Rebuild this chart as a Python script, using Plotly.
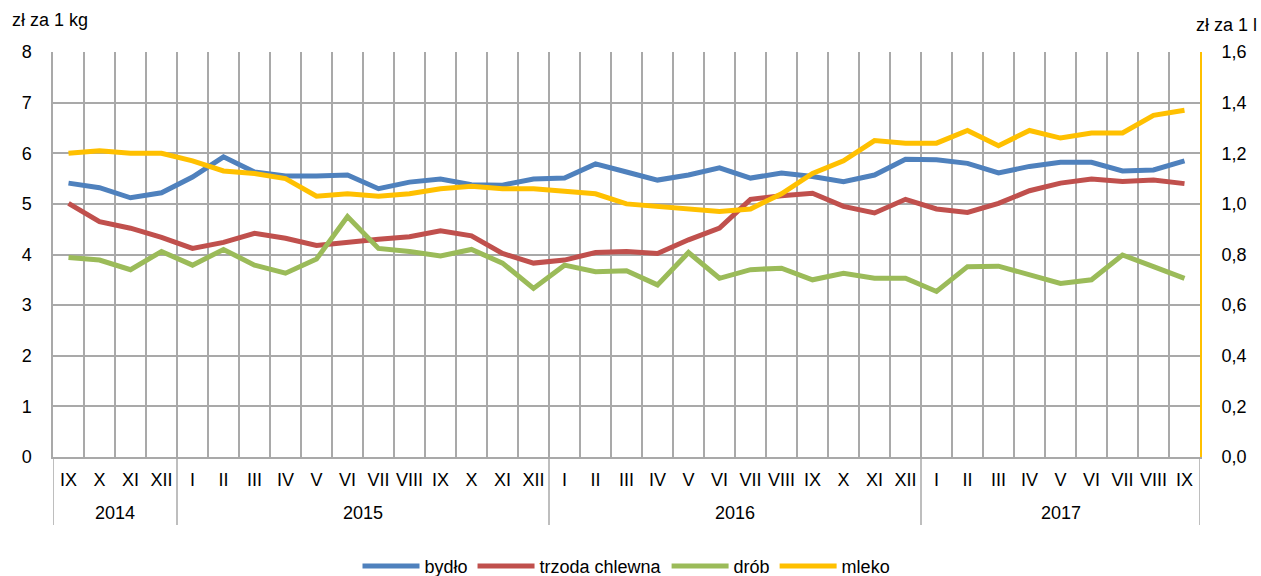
import plotly.graph_objects as go

years = ["2014"] * 4 + ["2015"] * 12 + ["2016"] * 12 + ["2017"] * 9
months = ["IX", "X", "XI", "XII"] + \
    ["I", "II", "III", "IV", "V", "VI", "VII", "VIII", "IX", "X", "XI", "XII"] * 2 + \
    ["I", "II", "III", "IV", "V", "VI", "VII", "VIII", "IX"]

bydlo = [5.41, 5.32, 5.12, 5.22, 5.53, 5.93, 5.63, 5.55, 5.55, 5.57, 5.30, 5.43,
         5.49, 5.38, 5.37, 5.49, 5.51, 5.79, 5.63, 5.47, 5.57, 5.71, 5.51, 5.61,
         5.54, 5.44, 5.57, 5.88, 5.87, 5.80, 5.61, 5.74, 5.82, 5.82, 5.65, 5.67, 5.85]
trzoda = [5.01, 4.65, 4.52, 4.34, 4.12, 4.24, 4.42, 4.32, 4.18, 4.25, 4.30, 4.35,
          4.47, 4.37, 4.02, 3.83, 3.89, 4.04, 4.06, 4.02, 4.29, 4.52, 5.09, 5.16,
          5.21, 4.95, 4.82, 5.09, 4.90, 4.83, 5.01, 5.26, 5.41, 5.49, 5.44, 5.47, 5.40]
drob = [3.94, 3.89, 3.70, 4.06, 3.79, 4.10, 3.79, 3.63, 3.91, 4.75, 4.12, 4.06,
        3.97, 4.10, 3.83, 3.33, 3.79, 3.66, 3.68, 3.40, 4.04, 3.53, 3.70, 3.73,
        3.50, 3.63, 3.53, 3.53, 3.27, 3.76, 3.77, 3.60, 3.43, 3.50, 3.99, 3.76, 3.53]
mleko = [1.20, 1.21, 1.20, 1.20, 1.17, 1.13, 1.12, 1.10, 1.03, 1.04, 1.03, 1.04,
         1.06, 1.07, 1.06, 1.06, 1.05, 1.04, 1.00, 0.99, 0.98, 0.97, 0.98, 1.04,
         1.12, 1.17, 1.25, 1.24, 1.24, 1.29, 1.23, 1.29, 1.26, 1.28, 1.28, 1.35, 1.37]

left_ticks = [0, 1, 2, 3, 4, 5, 6, 7, 8]
right_ticks = [0.0, 0.2, 0.4, 0.6, 0.8, 1.0, 1.2, 1.4, 1.6]

FONT = "Liberation Sans, Arial, sans-serif"
GRID = "#A9A9A9"

idx = list(range(len(months)))

fig = go.Figure()
fig.add_trace(go.Scatter(x=idx, y=bydlo, name="bydło", mode="lines",
                         line=dict(color="#4F81BD", width=5)))
fig.add_trace(go.Scatter(x=idx, y=trzoda, name="trzoda chlewna", mode="lines",
                         line=dict(color="#C0504D", width=5)))
fig.add_trace(go.Scatter(x=idx, y=drob, name="drób", mode="lines",
                         line=dict(color="#9BBB59", width=5)))
fig.add_trace(go.Scatter(x=idx, y=mleko, name="mleko", mode="lines", yaxis="y2",
                         line=dict(color="#FFC000", width=5)))

# year groups: labels and dividers derived from the years list
groups = []
start = 0
for i in range(1, len(years) + 1):
    if i == len(years) or years[i] != years[start]:
        groups.append((years[start], start, i - 1))
        start = i

annotations = [
    dict(text="zł za 1 kg", xref="paper", yref="paper", x=-0.0375, y=1.079,
         xanchor="left", yanchor="middle", showarrow=False, font=dict(size=18)),
    dict(text="zł za 1 l", xref="paper", yref="paper", x=1.0514, y=1.067,
         xanchor="right", yanchor="middle", showarrow=False, font=dict(size=18)),
]
shapes = []
for name, a, b in groups:
    annotations.append(dict(text=name, xref="x", yref="paper", x=(a + b) / 2, y=-0.138,
                            xanchor="center", yanchor="middle", showarrow=False,
                            font=dict(size=18)))
    shapes.append(dict(type="line", xref="x", yref="paper", x0=a - 0.5, x1=a - 0.5,
                       y0=0, y1=-0.168, line=dict(color=GRID, width=1.5)))
last = groups[-1][2]
shapes.append(dict(type="line", xref="x", yref="paper", x0=last + 0.5, x1=last + 0.5,
                   y0=0, y1=-0.168, line=dict(color=GRID, width=1.5)))

fig.update_layout(
    width=1261, height=576,
    margin=dict(l=53, r=61, t=52, b=119, autoexpand=False),
    paper_bgcolor="white", plot_bgcolor="white",
    font=dict(family=FONT, size=18, color="#000000"),
    separators=", ",
    showlegend=True,
    legend=dict(orientation="h", x=0.5, xanchor="center", y=-0.27, yanchor="middle",
                font=dict(size=18), tracegroupgap=0, itemwidth=57),
    xaxis=dict(
        range=[-0.5, len(months) - 0.5], tickvals=idx, ticktext=months,
        showgrid=False, showline=True, linecolor=GRID, linewidth=1.5,
        minor=dict(tick0=-0.5, dtick=1, showgrid=True, gridcolor=GRID, gridwidth=1.5,
                   ticks=""),
        ticks="", tickfont=dict(size=18), zeroline=False, automargin=False,
        ticklabelstandoff=6,
    ),
    yaxis=dict(
        range=[0, 8], tickvals=left_ticks, showgrid=True, gridcolor=GRID, gridwidth=1.5,
        showline=True, linecolor=GRID, linewidth=1.5, zeroline=False,
        ticks="", tickfont=dict(size=18), ticklabelstandoff=16, automargin=False,
    ),
    yaxis2=dict(
        range=[0, 1.6], tickvals=right_ticks, tickformat=".1f", overlaying="y", side="right",
        showgrid=False, showline=True, linecolor="#FFC000", linewidth=2, zeroline=False,
        ticks="", tickfont=dict(size=18), ticklabelstandoff=16, automargin=False,
    ),
    annotations=annotations,
    shapes=shapes,
)

fig.write_html("out.html", config={"displayModeBar": False},
               post_script="document.body.style.margin='0';document.body.style.overflow='hidden';")
